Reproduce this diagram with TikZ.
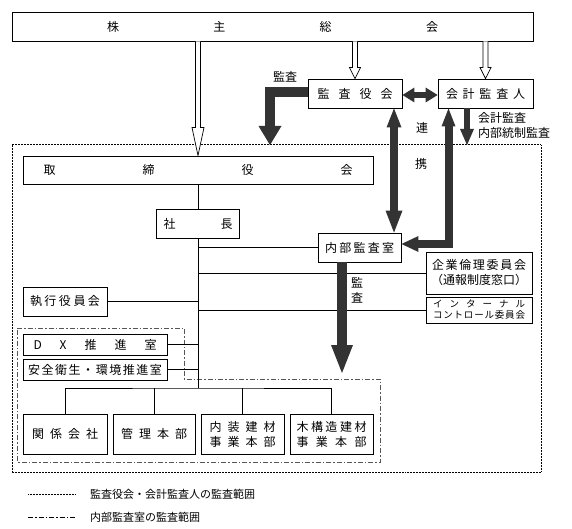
\documentclass[tikz,border=0pt]{standalone}
\usepackage{fontspec}
\setmainfont{Noto Sans CJK JP}
\usetikzlibrary{arrows.meta,calc}
\definecolor{tk}{HTML}{333333}
\definecolor{dd}{HTML}{555555}
\newcommand\spr[2]{\hbox to #1{#2}}
\newcommand\hollowarr[4]{\draw[fill=white,line width=0.7pt,line join=miter] let \p1=(#1), \p2=(#2) in (\x1-2.5pt,\y1) -- (\x1-2.5pt,\y2+#3) -- (\x1-#4,\y2+#3) -- (\x1,\y2) -- (\x1+#4,\y2+#3) -- (\x1+2.5pt,\y2+#3) -- (\x1+2.5pt,\y1);}
\begin{document}
\begin{tikzpicture}[x=1pt,y=-1pt,
  box/.style={draw, line width=0.9pt, inner sep=0pt, minimum height=29pt, align=center, font=\fontsize{12}{15}\selectfont},
  conn/.style={line width=0.8pt},
  lbl/.style={inner sep=0pt, font=\fontsize{12}{15}\selectfont},
  dotbox/.style={line width=1pt, dash pattern=on 0.9pt off 0.6pt},
  dashdot/.style={draw=dd, line width=0.7pt, dash pattern=on 5pt off 2pt on 1.5pt off 2pt}]
\useasboundingbox (0,0) rectangle (572,529);

% scopes
\draw[dotbox] (12,145) rectangle (541,472);
\draw[dashdot] (17,328) -- (184,328) -- (184,379) -- (380,379) -- (380,462) -- (17,462) -- cycle;

% nodes
\node[box, minimum width=521pt] (kabu) at (272.5,26.5) {\spr{331pt}{株\hfill 主\hfill 総\hfill 会}};
\node[box, minimum width=94pt] (kansayaku) at (355,93.5) {\spr{75pt}{監\hfill 査\hfill 役\hfill 会}};
\node[box, minimum width=95pt] (kaikei) at (485.5,93.5) {\spr{79pt}{会\hfill 計\hfill 監\hfill 査\hfill 人}};
\node[box, minimum width=350pt, minimum height=28pt] (torishimari) at (198,170) {\spr{309pt}{取\hfill 締\hfill 役\hfill 会}};
\node[box, minimum width=83pt] (shacho) at (198,223.5) {\spr{69pt}{社\hfill 長}};
\node[box, minimum width=83pt] (naibu) at (359.5,247.5) {\spr{69pt}{内\hfill 部\hfill 監\hfill 査\hfill 室}};
\node[box, minimum width=106pt, minimum height=42pt] (kigyo) at (479,273) {\spr{94pt}{企\hfill 業\hfill 倫\hfill 理\hfill 委\hfill 員\hfill 会}\\\spr{96pt}{（\hfill 通\hfill 報\hfill 制\hfill 度\hfill 窓\hfill 口\hfill ）}};
\node[box, minimum width=106pt, minimum height=26pt, font=\fontsize{9.5}{11}\selectfont] (internal) at (479,310) {\spr{92pt}{イ\hfill ン\hfill タ\hfill ー\hfill ナ\hfill ル}\\\spr{92pt}{コ\hfill ン\hfill ト\hfill ロ\hfill ー\hfill ル\hfill 委\hfill 員\hfill 会}};
\node[box, minimum width=84pt] (shikko) at (65,301.5) {\spr{70pt}{執\hfill 行\hfill 役\hfill 員\hfill 会}};
\node[box, minimum width=144pt, minimum height=21pt] (dx) at (95,344.5) {\spr{123pt}{D\hfill X\hfill 推\hfill 進\hfill 室}};
\node[box, minimum width=144pt, minimum height=21pt] (anzen) at (95,369.5) {\spr{134pt}{安\hfill 全\hfill 衛\hfill 生\hfill ・\hfill 環\hfill 境\hfill 推\hfill 進\hfill 室}};
\node[box, minimum width=84pt, minimum height=40pt] (kankei) at (65,434) {\spr{66pt}{関\hfill 係\hfill 会\hfill 社}};
\node[box, minimum width=82pt, minimum height=40pt] (kanri) at (154,434) {\spr{66pt}{管\hfill 理\hfill 本\hfill 部}};
\node[box, minimum width=83pt, minimum height=40pt] (naiso) at (242.5,434) {\spr{66pt}{内\hfill 装\hfill 建\hfill 材}\\\spr{66pt}{事\hfill 業\hfill 本\hfill 部}};
\node[box, minimum width=83pt, minimum height=40pt] (mokko) at (331.5,434) {\spr{70pt}{木\hfill 構\hfill 造\hfill 建\hfill 材}\\\spr{70pt}{事\hfill 業\hfill 本\hfill 部}};

% labels
\node[lbl] (l1) at (285,77) {監査};
\node[lbl] (l2) at (422,128) {連};
\node[lbl] (l3) at (421,164) {携};
\node[lbl, anchor=west, align=left] (l4) at (478,125.5) {会計監査\\内部統制監査};
\node[lbl] (l5) at (357,283) {監};
\node[lbl] (l6) at (357,297.5) {査};

% org lines
\coordinate (tb) at (198,388);
\draw[conn] (torishimari.south) -- (shacho.north);
\draw[conn] (shacho.south) -- (tb);
\draw[conn] (kankei.north) |- (tb) -| (mokko.north);
\draw[conn] (kanri.north) -- (kanri.north |- tb);
\draw[conn] (naiso.north) -- (naiso.north |- tb);
\draw[conn] (tb |- naibu.west) -- (naibu.west);
\draw[conn] (tb |- kigyo.west) -- (kigyo.west);
\draw[conn] (tb |- internal.west) -- (internal.west);
\draw[conn] (shikko.east) -- (shikko.east -| tb);
\draw[conn] (dx.east) -- (dx.east -| tb);
\draw[conn] (anzen.east) -- (anzen.east -| tb);

% hollow arrows
\hollowarr{kabu.south -| torishimari.north}{torishimari.north}{28pt}{6pt}
\hollowarr{kabu.south -| kansayaku.north}{kansayaku.north}{11pt}{5.5pt}
\hollowarr{kabu.south -| kaikei.north}{kaikei.north}{11pt}{5.5pt}

% thick arrows
\coordinate (ltip) at (270,145);
\coordinate (ktip) at (467,145);
\coordinate (ntip) at (342,373);
\draw[draw=tk, line width=10.5pt, line join=miter, -{Triangle[length=19pt,width=23pt,line width=0pt]}] ([yshift=1.5pt]kansayaku.west) -| (ltip);
\draw[draw=tk, line width=8pt, {Triangle[length=19pt,width=15pt,line width=0pt]}-{Triangle[length=22pt,width=17pt,line width=0pt]}] ([xshift=39pt]kansayaku.south) -- ([xshift=34.5pt]naibu.north);
\draw[draw=tk, line width=8pt, line join=miter, {Triangle[length=17pt,width=16pt,line width=0pt]}-{Triangle[length=18pt,width=14pt,line width=0pt]}] ([yshift=3.5pt]naibu.east) -| ([xshift=-37pt]kaikei.south);
\draw[draw=tk, line width=6.5pt, -{Triangle[length=16pt,width=14pt,line width=0pt]}] ([xshift=-18.5pt]kaikei.south) -- (ktip);
\draw[draw=tk, line width=6pt, {Triangle[length=12pt,width=15pt,line width=0pt]}-{Triangle[length=12pt,width=15pt,line width=0pt]}] ([yshift=-1.5pt]kansayaku.east) -- ([yshift=-1.5pt]kaikei.west);
\draw[draw=tk, line width=10.5pt, -{Triangle[length=28pt,width=22pt,line width=0pt]}] ([xshift=-17.5pt]naibu.south) -- (ntip);

% legend
\draw[dotbox] (28,494) -- (75,494);
\node[lbl, anchor=west, font=\fontsize{11}{13}\selectfont] (leg1) at (90,494) {監査役会・会計監査人の監査範囲};
\draw[dashdot, draw=black] (28,517) -- (75,517);
\node[lbl, anchor=west, font=\fontsize{11}{13}\selectfont] (leg2) at (90,517) {内部監査室の監査範囲};
\end{tikzpicture}
\end{document}
